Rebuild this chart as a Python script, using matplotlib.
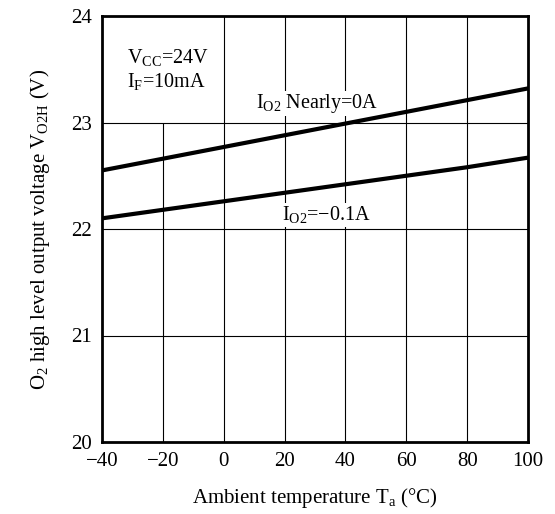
import numpy as np
import matplotlib.pyplot as plt

plt.rcParams['font.family'] = ['Liberation Serif', 'DejaVu Serif']
plt.rcParams['mathtext.fontset'] = 'custom'
plt.rcParams['mathtext.rm'] = 'Liberation Serif'
plt.rcParams['mathtext.it'] = 'Liberation Serif:italic'

# 数据
temp = [-40, -20, 0, 20, 40, 60, 80, 100]
v_nearly0 = [22.55, 22.66, 22.77, 22.88, 22.99, 23.10, 23.21, 23.32]
v_minus01 = [22.10, 22.18, 22.26, 22.34, 22.42, 22.50, 22.58, 22.67]
xticks = [-40, -20, 0, 20, 40, 60, 80, 100]
yticks = [20, 21, 22, 23, 24]

fig = plt.figure(figsize=(5.55, 5.14), dpi=100)
ax = fig.add_axes([102/555, 1-442/514, 426/555, 426/514])

# 网格线（-20 那条只画到 23）
for x in xticks[1:-1]:
    top = 23 if x == -20 else 24
    ax.vlines(x, 20, top, color='black', lw=0.8, zorder=1)
for y in yticks[1:-1]:
    ax.hlines(y, -40, 100, color='black', lw=0.8, zorder=1)

ax.plot(temp, v_nearly0, color='black', lw=3, zorder=5)
ax.plot(temp, v_minus01, color='black', lw=3, zorder=5)

ax.set_xlim(-40, 100)
ax.set_ylim(20, 24)
ax.set_xticks(xticks)
ax.set_xticklabels(['\u221240', '\u221220', '0', '20', '40', '60', '80', '100'])
ax.set_yticks(yticks)
ax.tick_params(length=0, labelsize=15, pad=7)
for s in ax.spines.values():
    s.set_linewidth(2)
    s.set_zorder(6)

fs = 14.5
box = dict(facecolor='white', edgecolor='none', pad=1)
ax.text(-31.8, 23.56, r'V$_{\mathrm{CC}}$=24V', fontsize=fs)
ax.text(-31.8, 23.33, r'I$_{\mathrm{F}}$=10mA', fontsize=fs)
ax.text(10.6, 23.136, r'I$_{\mathrm{O2}}$ Nearly=0A', fontsize=fs, bbox=box, zorder=3)
ax.text(19.2, 22.08, r'I$_{\mathrm{O2}}$=$-$0.1A', fontsize=fs, bbox=box, zorder=3)

ax.set_xlabel(r'Ambient temperature T$_{\mathrm{a}}$ ($\degree$C)', fontsize=15, labelpad=11)
ax.set_ylabel(r'O$_{2}$ high level output voltage V$_{\mathrm{O2H}}$ (V)', fontsize=15, labelpad=14)

fig.savefig('out.png', dpi=100)
